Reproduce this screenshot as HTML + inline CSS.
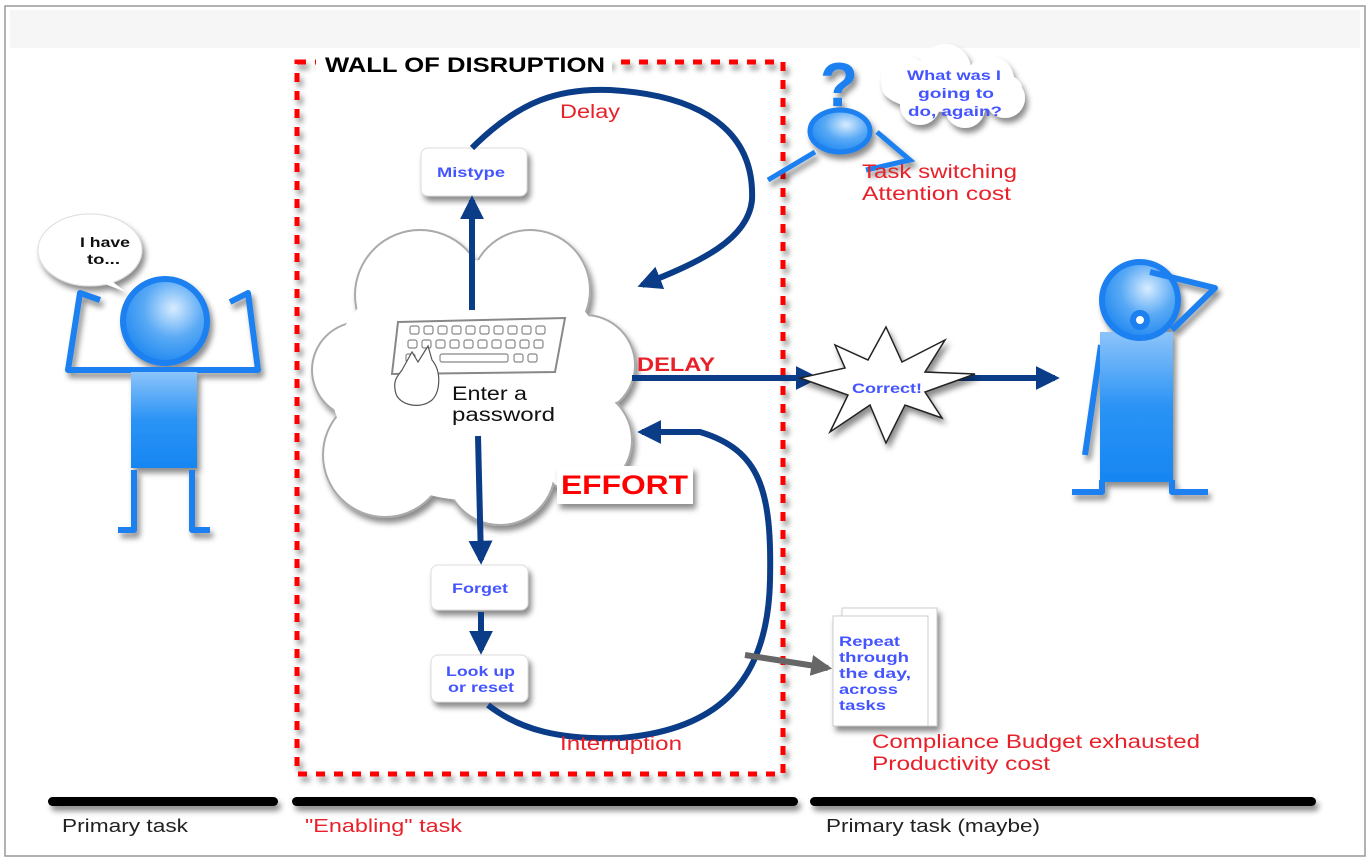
<!DOCTYPE html>
<html><head><meta charset="utf-8"><style>
html,body{margin:0;padding:0;background:#fff;width:1372px;height:866px;overflow:hidden}
svg{display:block}
text{font-family:"Liberation Sans",sans-serif}
</style></head><body>
<svg width="1372" height="866" viewBox="0 0 1372 866" xmlns="http://www.w3.org/2000/svg">
<defs>
<filter id="sh" filterUnits="userSpaceOnUse" x="0" y="0" width="1372" height="866"><feDropShadow dx="3" dy="5" stdDeviation="3" flood-color="#000" flood-opacity="0.45"/></filter>
<radialGradient id="hg" cx="0.6" cy="0.35" r="0.7"><stop offset="0" stop-color="#d8ecff"/><stop offset="0.5" stop-color="#5aaaf5"/><stop offset="1" stop-color="#1b86f0"/></radialGradient>
<linearGradient id="bg" x1="0" y1="0" x2="0" y2="1"><stop offset="0" stop-color="#8cc4fa"/><stop offset="0.5" stop-color="#2a93f5"/><stop offset="1" stop-color="#1786f2"/></linearGradient>
<marker id="ah" viewBox="0 0 10 10" refX="8" refY="5" markerWidth="4" markerHeight="4" orient="auto"><path d="M0,0 L10,5 L0,10 z" fill="#0b3c88"/></marker>
<marker id="ag" viewBox="0 0 10 10" refX="8" refY="5" markerWidth="3.5" markerHeight="3.5" orient="auto"><path d="M0,0 L10,5 L0,10 z" fill="#666"/></marker>
</defs>
<rect x="5" y="6" width="1360" height="850" fill="#fff" stroke="#999" stroke-width="1.5"/>
<rect x="10" y="10" width="1350" height="38" fill="#f6f6f6"/>

<!-- wall -->
<rect x="297" y="62" width="486" height="712" fill="none" stroke="#f00" stroke-width="5" stroke-dasharray="9 9" filter="url(#sh)"/>
<rect x="316" y="50" width="296" height="28" fill="#fff"/>
<text x="325" y="72" font-size="21" font-weight="bold" fill="#000" textLength="280" lengthAdjust="spacingAndGlyphs">WALL OF DISRUPTION</text>

<!-- cloud -->
<g filter="url(#sh)">
<g fill="#fff" stroke="#aaa" stroke-width="2">
<circle cx="420" cy="295" r="65"/><circle cx="530" cy="290" r="60"/><circle cx="585" cy="365" r="50"/><circle cx="580" cy="440" r="52"/><circle cx="500" cy="470" r="55"/><circle cx="385" cy="455" r="62"/><circle cx="360" cy="370" r="48"/>
</g>
<g fill="#fff"><circle cx="420" cy="295" r="63"/><circle cx="530" cy="290" r="58"/><circle cx="585" cy="365" r="48"/><circle cx="580" cy="440" r="50"/><circle cx="500" cy="470" r="53"/><circle cx="385" cy="455" r="60"/><circle cx="360" cy="370" r="46"/><ellipse cx="470" cy="380" rx="140" ry="120"/></g>
</g>
<!-- keyboard -->
<g stroke="#888" stroke-width="1.2" fill="none">
<path d="M398,322 L565,318 L555,372 L392,374 Z" stroke-width="2"/>
<g>
<rect x="410" y="326" width="9" height="8" rx="2"/><rect x="424" y="326" width="9" height="8" rx="2"/><rect x="438" y="326" width="9" height="8" rx="2"/><rect x="452" y="326" width="9" height="8" rx="2"/><rect x="466" y="326" width="9" height="8" rx="2"/><rect x="480" y="326" width="9" height="8" rx="2"/><rect x="494" y="326" width="9" height="8" rx="2"/><rect x="508" y="326" width="9" height="8" rx="2"/><rect x="522" y="326" width="9" height="8" rx="2"/><rect x="536" y="326" width="9" height="8" rx="2"/>
<rect x="408" y="340" width="9" height="8" rx="2"/><rect x="422" y="340" width="9" height="8" rx="2"/><rect x="436" y="340" width="9" height="8" rx="2"/><rect x="450" y="340" width="9" height="8" rx="2"/><rect x="464" y="340" width="9" height="8" rx="2"/><rect x="478" y="340" width="9" height="8" rx="2"/><rect x="492" y="340" width="9" height="8" rx="2"/><rect x="506" y="340" width="9" height="8" rx="2"/><rect x="520" y="340" width="9" height="8" rx="2"/><rect x="534" y="340" width="9" height="8" rx="2"/>
<rect x="406" y="354" width="9" height="8" rx="2"/><rect x="440" y="354" width="68" height="8" rx="2"/><rect x="514" y="354" width="9" height="8" rx="2"/><rect x="528" y="354" width="9" height="8" rx="2"/>
</g>
<path d="M402,370 L412,352 L418,362 L428,346 L432,360 C442,372 440,392 432,400 C420,410 400,405 396,394 C392,380 398,376 402,370 Z" stroke="#555" fill="#fff"/>
</g>
<text x="452" y="400" font-size="19" fill="#111" textLength="75" lengthAdjust="spacingAndGlyphs">Enter a</text>
<text x="452" y="421" font-size="19" fill="#111" textLength="103" lengthAdjust="spacingAndGlyphs">password</text>

<!-- boxes -->
<g filter="url(#sh)" fill="#fff" stroke="#ddd">
<rect x="421" y="148" width="106" height="48" rx="7"/>
<rect x="431" y="565" width="97" height="45" rx="7"/>
<rect x="431" y="655" width="97" height="47" rx="7"/>
</g>
<g font-size="14" font-weight="bold" fill="#4455ff">
<text x="437" y="177" textLength="68" lengthAdjust="spacingAndGlyphs">Mistype</text>
<text x="452" y="593" textLength="56" lengthAdjust="spacingAndGlyphs">Forget</text>
<text x="446" y="676" textLength="69" lengthAdjust="spacingAndGlyphs">Look up</text>
<text x="448" y="692" textLength="66" lengthAdjust="spacingAndGlyphs">or reset</text>
</g>

<!-- arrows -->
<g stroke="#0b3c88" stroke-width="6" fill="none" marker-end="url(#ah)">
<line x1="472" y1="310" x2="472" y2="200"/>
<line x1="478" y1="436" x2="481" y2="560"/>
<line x1="481" y1="612" x2="481" y2="650"/>
<path d="M472,148 C520,100 560,88 610,90 C700,95 755,130 752,200 C748,240 700,262 642,285"/>
<path d="M488,705 C520,730 560,740 620,738 C720,730 768,680 770,580 C772,490 760,450 700,432 L642,432"/>
<line x1="632" y1="378" x2="815" y2="378"/>
<line x1="935" y1="378" x2="1055" y2="378"/>
</g>
<line x1="745" y1="655" x2="828" y2="668" stroke="#666" stroke-width="6" marker-end="url(#ag)"/>

<text x="560" y="118" font-size="19" fill="#e8202a" textLength="60" lengthAdjust="spacingAndGlyphs">Delay</text>
<text x="560" y="750" font-size="19" fill="#e8202a" textLength="122" lengthAdjust="spacingAndGlyphs">Interruption</text>
<text x="637" y="371" font-size="19" font-weight="bold" fill="#e8202a" textLength="78" lengthAdjust="spacingAndGlyphs">DELAY</text>
<rect x="557" y="466" width="136" height="38" fill="#fff" filter="url(#sh)"/>
<text x="561" y="494" font-size="27" font-weight="bold" fill="#f00" textLength="127" lengthAdjust="spacingAndGlyphs">EFFORT</text>

<!-- star -->
<polygon filter="url(#sh)" fill="#fff" stroke="#222" stroke-width="1.5" points="886,327 902,362 945,340 925,372 975,374 925,392 942,418 905,405 886,443 870,405 830,432 848,395 800,378 845,368 835,345 868,360"/>
<text x="852" y="393" font-size="14" font-weight="bold" fill="#4455ff" textLength="70" lengthAdjust="spacingAndGlyphs">Correct!</text>

<!-- left figure -->
<g filter="url(#sh)">
<ellipse cx="90" cy="250" rx="52" ry="36" fill="#fff" stroke="#ddd"/>
<path d="M110,280 L126,292 L100,282 Z" fill="#fff"/>
</g>
<text x="80" y="247" font-size="14" font-weight="bold" fill="#111" textLength="50" lengthAdjust="spacingAndGlyphs">I have</text>
<text x="87" y="264" font-size="14" font-weight="bold" fill="#111" textLength="33" lengthAdjust="spacingAndGlyphs">to...</text>
<g filter="url(#sh)" stroke="#1a80f0" stroke-width="6" fill="none" stroke-linejoin="round">
<path d="M100,300 L80,293 L68,370 L258,370 L248,293 L230,302"/>
<path d="M134,470 L134,530 L118,530 M192,470 L192,530 L210,530"/>
<rect x="131" y="372" width="66" height="96" fill="url(#bg)" stroke="none"/>
<circle cx="165" cy="321" r="42" fill="url(#hg)"/>
</g>

<!-- top mini figure -->
<g filter="url(#sh)">
<text x="820" y="106" font-size="62" font-weight="bold" fill="#1a80f0">?</text>
<g fill="#fff"><circle cx="905" cy="80" r="24"/><circle cx="945" cy="70" r="26"/><circle cx="990" cy="80" r="24"/><circle cx="1005" cy="98" r="20"/><circle cx="965" cy="108" r="20"/><circle cx="920" cy="105" r="20"/><ellipse cx="952" cy="88" rx="70" ry="24"/></g>
<g stroke="#1a80f0" stroke-width="5" fill="none">
<path d="M768,180 L815,152 M877,132 L910,160 L866,170"/>
<ellipse cx="840" cy="131" rx="30" ry="21" fill="url(#hg)"/>
</g>
</g>
<g font-size="14" font-weight="bold" fill="#4455ff">
<text x="907" y="80" textLength="94" lengthAdjust="spacingAndGlyphs">What was I</text>
<text x="918" y="98" textLength="76" lengthAdjust="spacingAndGlyphs">going to</text>
<text x="908" y="116" textLength="94" lengthAdjust="spacingAndGlyphs">do, again?</text>
</g>
<text x="862" y="178" font-size="19" fill="#e8202a" textLength="155" lengthAdjust="spacingAndGlyphs">Task switching</text>
<text x="862" y="200" font-size="19" fill="#e8202a" textLength="149" lengthAdjust="spacingAndGlyphs">Attention cost</text>

<!-- right figure -->
<g filter="url(#sh)" stroke="#1a80f0" stroke-width="6" fill="none" stroke-linejoin="round">
<path d="M1101,345 L1085,455"/>
<path d="M1102,480 L1102,492 L1072,492 M1172,480 L1172,492 L1208,492"/>
<rect x="1100" y="332" width="73" height="150" fill="url(#bg)" stroke="none"/>
<circle cx="1140" cy="300" r="38" fill="url(#hg)"/>
<path d="M1150,272 L1215,288 L1172,330"/>
<circle cx="1140" cy="320" r="7" fill="#fff"/>
</g>

<!-- papers -->
<g filter="url(#sh)" fill="#fff" stroke="#ccc">
<rect x="842" y="608" width="95" height="118"/>
<rect x="833" y="616" width="95" height="110"/>
</g>
<g font-size="14" font-weight="bold" fill="#4455ff">
<text x="839" y="646" textLength="61" lengthAdjust="spacingAndGlyphs">Repeat</text><text x="839" y="662" textLength="70" lengthAdjust="spacingAndGlyphs">through</text><text x="839" y="678" textLength="72" lengthAdjust="spacingAndGlyphs">the day,</text><text x="839" y="694" textLength="59" lengthAdjust="spacingAndGlyphs">across</text><text x="839" y="710" textLength="47" lengthAdjust="spacingAndGlyphs">tasks</text>
</g>
<text x="872" y="748" font-size="19" fill="#e8202a" textLength="328" lengthAdjust="spacingAndGlyphs">Compliance Budget exhausted</text>
<text x="872" y="770" font-size="19" fill="#e8202a" textLength="178" lengthAdjust="spacingAndGlyphs">Productivity cost</text>

<!-- bottom bars -->
<g fill="#000" filter="url(#sh)">
<rect x="48" y="797" width="230" height="9" rx="4.5"/>
<rect x="292" y="797" width="506" height="9" rx="4.5"/>
<rect x="810" y="797" width="506" height="9" rx="4.5"/>
</g>
<text x="62" y="832" font-size="18" fill="#222" textLength="126" lengthAdjust="spacingAndGlyphs">Primary task</text>
<text x="305" y="832" font-size="18" fill="#e8202a" textLength="157" lengthAdjust="spacingAndGlyphs">"Enabling" task</text>
<text x="826" y="832" font-size="18" fill="#222" textLength="214" lengthAdjust="spacingAndGlyphs">Primary task (maybe)</text>
</svg>
</body></html>
